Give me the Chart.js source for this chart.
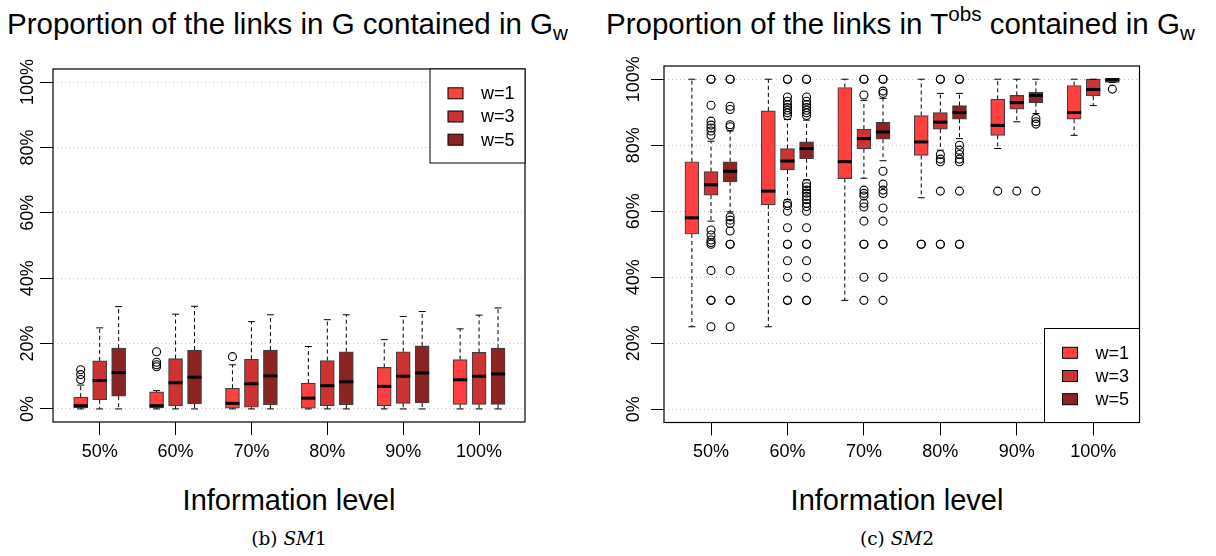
<!DOCTYPE html>
<html>
<head>
<meta charset="utf-8">
<script src="https://cdn.jsdelivr.net/npm/chart.js@4.4.1/dist/chart.umd.min.js"></script>
<style>
  body { margin: 0; background: #fff; }
  #page { position: relative; width: 1216px; height: 556px; overflow: hidden; font-family: 'Liberation Sans', Arial, sans-serif; color: #000; }
  canvas { position: absolute; top: 0; }
  .title { position: absolute; top: 9px; font-size: 29.5px; line-height: 1; white-space: nowrap; }
  .title sub { font-size: 0.7em; vertical-align: -0.3em; line-height: 0; }
  .title sup { font-size: 0.7em; vertical-align: 0.62em; line-height: 0; }
  .xlab { position: absolute; top: 486px; width: 400px; text-align: center; font-size: 29px; line-height: 1; }
  .cap { position: absolute; top: 530px; width: 300px; text-align: center; font-family: 'DejaVu Serif', 'Liberation Serif', serif; font-size: 18.5px; line-height: 1; }
</style>
</head>
<body>
<div id="page">
  <div class="title" style="left:7px">Proportion of the links in G contained in G<sub>w</sub></div>
  <div class="title" style="left:606px">Proportion of the links in T<sup>obs</sup> contained in G<sub>w</sub></div>
  <canvas id="sm1" width="600" height="480" style="left:0"></canvas>
  <canvas id="sm2" width="616" height="480" style="left:600px"></canvas>
  <div class="xlab" style="left:89px">Information level</div>
  <div class="xlab" style="left:697px">Information level</div>
  <div class="cap" style="left:139px">(b) <i>SM</i>1</div>
  <div class="cap" style="left:747px">(c) <i>SM</i>2</div>
</div>
<script>
// categories and series
const levels = ['50%', '60%', '70%', '80%', '90%', '100%'];
const series = ['w=1', 'w=3', 'w=5'];
const colors = ['#FF4040', '#CD3333', '#8B2323'];
const yGrid = [0, 10, 20, 30, 40, 50, 60, 70, 80, 90, 100];

// SM1 box stats (rows: w=1, w=3, w=5; cols: levels)
const sm1Lower = [[0, 0, 0, 0, 0, 0], [0, 0, 0, 0, 0, 0], [0, 0, 0, 0, 0, 0]];
const sm1Q1 = [[0.3, 0.3, 0.2, 0.2, 1.0, 1.4], [2.8, 0.9, 0.5, 1.0, 1.7, 1.4], [3.9, 1.5, 1.3, 1.3, 1.8, 1.4]];
const sm1Median = [[1.0, 1.0, 1.7, 3.3, 6.9, 8.9], [8.7, 8.0, 7.7, 7.1, 10.0, 10.0], [11.1, 9.7, 10.1, 8.3, 11.0, 10.7]];
const sm1Q3 = [[3.6, 5.2, 6.3, 7.9, 12.7, 15.1], [14.7, 15.4, 15.2, 14.8, 17.5, 17.3], [18.6, 18.0, 18.0, 17.5, 19.3, 18.6]];
const sm1Upper = [[7.3, 5.6, 13.5, 19.1, 21.2, 24.5], [24.8, 29.0, 26.7, 27.3, 28.3, 28.7], [31.3, 31.4, 28.8, 28.8, 29.8, 30.9]];
const sm1Out = [
  [[9.0, 10.5, 12.0], [12.9, 13.5, 14.3, 17.5], [16.0], [], [], []],
  [[], [], [], [], [], []],
  [[], [], [], [], [], []]
];

// SM2 box stats
const sm2Lower = [[25, 25, 33, 64.1, 79, 83], [57, 63.5, 70, 78.5, 87.1, 92], [59.8, 69.5, 75.3, 82, 89.6, 99]];
const sm2Q1 = [[53.1, 61.9, 69.9, 76.9, 83, 87.9], [64.9, 72.5, 78.9, 84.9, 90.9, 94.9], [68.9, 75.9, 81.8, 87.9, 92.9, 99]];
const sm2Median = [[58, 66.1, 75, 81, 86, 89.9], [68, 75.2, 82, 87, 92.9, 96.9], [72.1, 79, 84, 89.9, 95.1, 99.9]];
const sm2Q3 = [[75, 90.4, 97.5, 89, 93.9, 98.1], [72, 79, 84.9, 89.9, 95.1, 100], [75, 81, 86.9, 92, 96, 100]];
const sm2Upper = [[100, 100, 100, 100, 100, 100], [81.2, 87.8, 93.6, 95.7, 100, 100], [84.3, 87.6, 94.2, 95.7, 100, 100]];
const sm2Out = [
  [[], [], [], [50, 50], [66.1], []],
  [[100, 100, 92.1, 87.3, 86.1, 85.2, 84.3, 83.0, 54.3, 52.8, 51.3, 50.5, 50, 42, 33, 33, 25],
   [100, 100, 94.6, 93.3, 92.3, 91.4, 90.6, 89.8, 89, 62.4, 61.7, 60, 55, 50, 50, 45, 40, 33, 33],
   [100, 100, 95.2, 66.4, 65.4, 64.6, 62.4, 61.3, 57, 50, 50, 40, 33],
   [100, 100, 77.2, 75.8, 75, 66.1, 50, 50],
   [66.1], []],
  [[100, 100, 91.8, 90.8, 86.2, 85.6, 58.3, 57.3, 56.3, 54, 50, 50, 42, 33, 33, 25],
   [100, 100, 94.6, 93.3, 92.3, 91.4, 90.6, 89.8, 89, 68.4, 67.4, 66.4, 65.5, 64.5, 63.5, 62.4, 61.4, 60, 55, 50, 50, 45, 40, 33, 33],
   [100, 100, 96.4, 95.7, 72.1, 68.2, 66.4, 65.4, 61, 57, 50, 50, 40, 33],
   [100, 100, 80, 78.5, 77.2, 75.8, 75, 66.1, 50, 50],
   [88.1, 87.1, 86.4, 66.1], [97]]
];

const fontFamily = "'Liberation Sans', Arial, sans-serif";
const groupOffset = 0.25; // w=1 left of tick, w=5 right of tick

function pos(s, i) {
  return i + 1 + (s - 1) * groupOffset;
}

// whiskers, caps and medians, drawn on top of the floating bars
const boxWhiskers = {
  id: 'boxWhiskers',
  afterDatasetsDraw(chart, args, o) {
    const ctx = chart.ctx;
    const y = chart.scales.y;
    ctx.save();
    series.forEach((name, s) => {
      chart.getDatasetMeta(s).data.forEach((bar, i) => {
        const x = bar.x, hw = bar.width / 2, cap = bar.width / 4;
        const yLo = y.getPixelForValue(o.lower[s][i]);
        const yHi = y.getPixelForValue(o.upper[s][i]);
        const yQ1 = y.getPixelForValue(o.q1[s][i]);
        const yQ3 = y.getPixelForValue(o.q3[s][i]);
        ctx.strokeStyle = '#000';
        ctx.lineWidth = 1;
        ctx.setLineDash([4, 3]);
        ctx.beginPath();
        ctx.moveTo(x, yQ3); ctx.lineTo(x, yHi);
        ctx.moveTo(x, yQ1); ctx.lineTo(x, yLo);
        ctx.stroke();
        ctx.setLineDash([]);
        ctx.beginPath();
        ctx.moveTo(x - cap, yHi); ctx.lineTo(x + cap, yHi);
        ctx.moveTo(x - cap, yLo); ctx.lineTo(x + cap, yLo);
        ctx.stroke();
        const yMed = y.getPixelForValue(o.median[s][i]);
        ctx.lineWidth = 3;
        ctx.beginPath();
        ctx.moveTo(x - hw, yMed); ctx.lineTo(x + hw, yMed);
        ctx.stroke();
      });
    });
    ctx.restore();
  }
};

// frame around the plot region and the boxed legend
const frameAndLegend = {
  id: 'frameAndLegend',
  afterDraw(chart, args, o) {
    const {ctx, chartArea: a} = chart;
    ctx.save();
    ctx.strokeStyle = '#000';
    ctx.lineWidth = 1.2;
    ctx.strokeRect(a.left, a.top, a.right - a.left, a.bottom - a.top);
    const w = 95, h = 94;
    const left = a.right - w;
    const top = o.corner === 'top' ? a.top : a.bottom - h;
    ctx.fillStyle = '#fff';
    ctx.fillRect(left, top, w, h);
    ctx.lineWidth = 1;
    ctx.strokeRect(left, top, w, h);
    ctx.font = '18px ' + fontFamily;
    ctx.textBaseline = 'middle';
    series.forEach((name, s) => {
      const cy = top + 24.3 + s * 23.2;
      ctx.fillStyle = colors[s];
      ctx.fillRect(left + 18, cy - 5.5, 15, 11);
      ctx.strokeStyle = '#000';
      ctx.strokeRect(left + 18, cy - 5.5, 15, 11);
      ctx.fillStyle = '#000';
      ctx.fillText(name, left + 51, cy + 1);
    });
    ctx.restore();
  }
};

function makeChart(id, st, cfg) {
  const boxes = series.map((name, s) => ({
    type: 'bar',
    label: name,
    data: levels.map((_, i) => ({x: pos(s, i), y: [st.q1[s][i], st.q3[s][i]]})),
    backgroundColor: colors[s],
    borderColor: 'rgba(0,0,0,0.75)',
    borderWidth: 1.2,
    borderSkipped: false,
    barThickness: 14,
    grouped: false,
    order: 2
  }));
  const outs = series.map((name, s) => ({
    type: 'scatter',
    label: name + ' outliers',
    data: st.out[s].flatMap((vals, i) => vals.map(v => ({x: pos(s, i), y: v}))),
    pointRadius: 4,
    pointBorderWidth: 1.1,
    pointBorderColor: '#000',
    pointBackgroundColor: 'rgba(0,0,0,0)',
    order: 1
  }));
  return new Chart(document.getElementById(id), {
    type: 'bar',
    data: {datasets: boxes.concat(outs)},
    plugins: [boxWhiskers, frameAndLegend],
    options: {
      responsive: false,
      animation: false,
      events: [],
      layout: {padding: {top: cfg.top, right: cfg.right, left: 0, bottom: 0}},
      plugins: {
        legend: {display: false},
        tooltip: {enabled: false},
        boxWhiskers: st,
        frameAndLegend: {corner: cfg.corner}
      },
      scales: {
        x: {
          type: 'linear', min: 0.385, max: 6.605, offset: false,
          afterBuildTicks: sc => { sc.ticks = levels.map((_, i) => ({value: i + 1})); },
          afterFit: sc => { sc.height = cfg.xAxisH; },
          grid: {drawOnChartArea: false, drawTicks: true, tickLength: 13, tickColor: '#000', offset: false},
          border: {display: false},
          ticks: {
            autoSkip: false, maxRotation: 0, padding: 6, color: '#000',
            font: {family: fontFamily, size: 18},
            callback: v => levels[v - 1]
          }
        },
        y: {
          type: 'linear', min: -4, max: 104,
          afterBuildTicks: sc => { sc.ticks = yGrid.map(v => ({value: v})); },
          afterFit: sc => { sc.width = cfg.yAxisW; },
          grid: {
            color: '#c4c4c4', lineWidth: 1, tickLength: 13, tickBorderDash: [],
            tickColor: c => (c.tick && c.tick.value % 20 === 0) ? '#000' : 'rgba(0,0,0,0)'
          },
          border: {display: false, dash: [1, 3]},
          ticks: {
            minRotation: 90, maxRotation: 90, crossAlign: 'center', padding: cfg.yPad, color: '#000',
            font: {family: fontFamily, size: 18},
            callback: v => v % 20 === 0 ? v + '%' : ''
          }
        }
      }
    }
  });
}

makeChart('sm1', {lower: sm1Lower, q1: sm1Q1, median: sm1Median, q3: sm1Q3, upper: sm1Upper, out: sm1Out},
  {top: 69, right: 75, xAxisH: 58, yAxisW: 53, yPad: -11, corner: 'top'});
makeChart('sm2', {lower: sm2Lower, q1: sm2Q1, median: sm2Median, q3: sm2Q3, upper: sm2Upper, out: sm2Out},
  {top: 66, right: 76.5, xAxisH: 57.5, yAxisW: 64, yPad: -6, corner: 'bottom'});
</script>
</body>
</html>
